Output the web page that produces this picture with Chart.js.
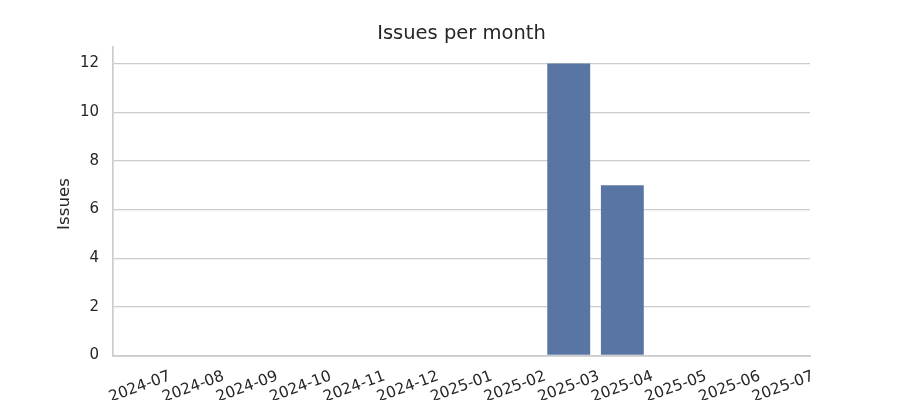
<!DOCTYPE html>
<html>
<head>
<meta charset="utf-8">
<script src="https://cdn.jsdelivr.net/npm/chart.js@4/dist/chart.umd.min.js"></script>
<style>
  html, body { margin: 0; padding: 0; background: #fff; }
  #wrap { width: 900px; height: 400px; }
</style>
</head>
<body>
<div id="wrap"><canvas id="issues_chart" width="900" height="400"></canvas></div>
<script>
// data
const months = ["2024-07", "2024-08", "2024-09", "2024-10", "2024-11", "2024-12",
                "2025-01", "2025-02", "2025-03", "2025-04", "2025-05", "2025-06", "2025-07"];
const issues = [0, 0, 0, 0, 0, 0, 0, 0, 12, 7, 0, 0, 0];
const yTicks = [0, 2, 4, 6, 8, 10, 12];

const TEXT_COLOR = "#262626";
const GRID_COLOR = "#cccccc";
const BAR_COLOR  = "#5975a4";
const FONT       = "'DejaVu Sans', sans-serif";

// matplotlib-style text: title over the plot area, x ticks rotated around
// their centre, y axis title
const mplLabels = {
  id: "mplLabels",
  afterDraw(chart) {
    const c = chart.ctx;
    const x = chart.scales.x;
    const area = chart.chartArea;
    c.save();
    c.fillStyle = TEXT_COLOR;
    c.textAlign = "center";
    c.textBaseline = "middle";

    c.font = "19.5px " + FONT;
    c.fillText("Issues per month", (area.left + area.right) / 2, 34);

    c.font = "15.4px " + FONT;
    months.forEach((m, i) => {
      c.save();
      c.translate(x.getPixelForTick(i), 387);
      c.rotate(-20 * Math.PI / 180);
      c.fillText(m, 0, 0);
      c.restore();
    });

    c.font = "16.7px " + FONT;
    c.translate(65, 204);
    c.rotate(-Math.PI / 2);
    c.fillText("Issues", 0, 0);
    c.restore();
  },
};

new Chart(document.getElementById("issues_chart").getContext("2d"), {
  type: "bar",
  data: {
    labels: months,
    datasets: [{
      label: "Issues",
      data: issues,
      backgroundColor: BAR_COLOR,
      borderWidth: 0,
      barPercentage: 0.8,
      categoryPercentage: 1.0,
    }],
  },
  options: {
    responsive: false,
    animation: false,
    devicePixelRatio: 1,
    layout: { padding: { left: 0, right: 90, top: 47, bottom: 0 } },
    plugins: {
      legend: { display: false },
      tooltip: { enabled: false },
      title: { display: false },
    },
    scales: {
      x: {
        offset: true,
        grid: { display: false, drawTicks: false },
        border: { display: true, color: GRID_COLOR, width: 1.7 },
        ticks: { display: false },
        afterFit: (s) => { s.height = 44.5; },
      },
      y: {
        min: 0,
        max: 12.68,
        afterBuildTicks: (s) => { s.ticks = yTicks.map((v) => ({ value: v })); },
        grid: { color: GRID_COLOR, lineWidth: 1.3, drawTicks: false },
        border: { display: true, color: GRID_COLOR, width: 1.7 },
        ticks: {
          color: TEXT_COLOR,
          padding: 14,
          font: { family: FONT, size: 15 },
        },
        afterFit: (s) => { s.width = 113; },
      },
    },
  },
  plugins: [mplLabels],
});
</script>
</body>
</html>
